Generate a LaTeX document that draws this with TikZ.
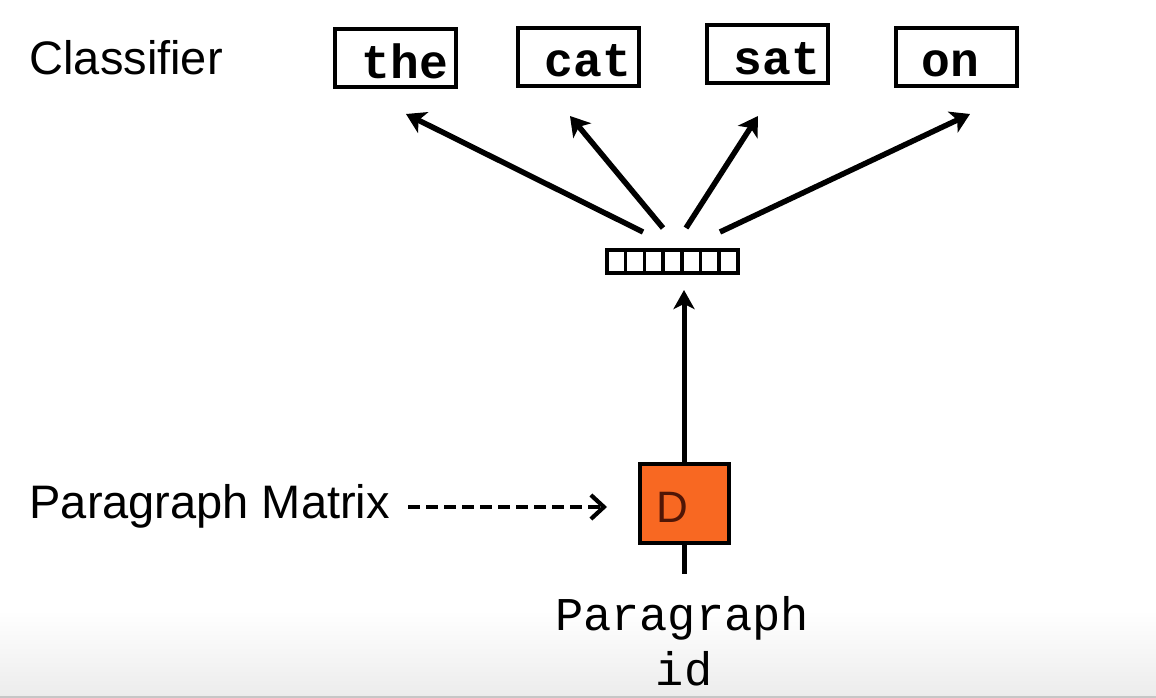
\documentclass[tikz,border=0pt]{standalone}
\usepackage{fontspec}
\setmainfont{Liberation Sans}
\newfontfamily\monofont{Liberation Mono}
\usetikzlibrary{arrows.meta}
\definecolor{dorange}{RGB}{248,104,34}
\definecolor{dtext}{RGB}{80,22,6}
\definecolor{fadegray}{RGB}{236,236,236}
\begin{document}
\begin{tikzpicture}[x=1pt,y=-1pt,
  wordbox/.style={draw=black, line width=4pt, minimum width=121pt, minimum height=58pt, inner sep=0pt},
  wordtext/.style={font=\monofont\bfseries\fontsize{48}{48}\selectfont, anchor=base},
  biglabel/.style={font=\fontsize{47}{47}\selectfont, anchor=base west},
  idlabel/.style={font=\monofont\fontsize{47}{47}\selectfont, anchor=base},
  thick arrow/.style={line width=5.5pt, -{Stealth[length=19pt,width=23pt,inset=5pt]}},
  cell/.style={draw=black, line width=3.5pt, minimum width=18.7pt, minimum height=23pt, inner sep=0pt, outer sep=0pt},
  dbox/.style={draw=black, line width=4pt, fill=dorange, minimum width=89pt, minimum height=79pt, inner sep=0pt}
]
% canvas and the soft grey fade at the bottom
\useasboundingbox (0,0) rectangle (1156,698);
\fill[white] (0,0) rectangle (1156,698);
\shade[top color=white, bottom color=fadegray] (0,610) rectangle (1156,696);
\fill[gray!45] (0,696) rectangle (1156,698);

% labels on the left
\node[biglabel] (classifier) at (26,75) {Classifier};
\node[biglabel] (pmatrix) at (26,518) {Paragraph Matrix};

% output words
\node[wordbox] (the) at (395.5,58) {};
\node[wordtext] (thetext) at (405,79) {the};
\node[wordbox] (cat) at (578.5,57) {};
\node[wordtext] (cattext) at (588,77) {cat};
\node[wordbox] (sat) at (767,54) {};
\node[wordtext] (sattext) at (777,75) {sat};
\node[wordbox] (on) at (956.5,57) {};
\node[wordtext] (ontext) at (950,77) {on};

% paragraph vector: seven cells in a row
\foreach \i in {0,...,6} {
  \node[cell] (c\i) at (616.35+18.7*\i,261.5) {};
}
\coordinate (vbot) at (684,290);

% anchors for the fan of arrows
\coordinate (s1) at (643,232);
\coordinate (s2) at (663,228);
\coordinate (s3) at (686,228);
\coordinate (s4) at (720,232);
\coordinate (t1) at (406,114);
\coordinate (t2) at (570,116);
\coordinate (t3) at (758,116);
\coordinate (t4) at (970,114);
\draw[thick arrow] (s1) -- (t1);
\draw[thick arrow] (s2) -- (t2);
\draw[thick arrow] (s3) -- (t3);
\draw[thick arrow] (s4) -- (t4);

% paragraph matrix D
\node[dbox] (D) at (684,503) {};
\node[font=\fontsize{44}{44}\selectfont, text=dtext, anchor=base west] (Dlabel) at (653,522) {D};
\draw[line width=5pt, -{Stealth[length=19pt,width=21pt,inset=5pt]}] (D.north) -- (vbot);
\coordinate (idtop) at (684,574);
\draw[line width=5pt] (D.south) -- (idtop);

% dashed pointer to D
\coordinate (dashstart) at (408,507);
\coordinate (dashend) at (607,507);
\draw[line width=4.2pt, dash pattern=on 12pt off 6pt, -{Straight Barb[length=13pt,width=24pt,line width=4.2pt]}] (dashstart) -- (dashend);

% paragraph id
\node[idlabel] (idl1) at (682,630) {Paragraph};
\node[idlabel] (idl2) at (684,685) {id};
\end{tikzpicture}
\end{document}
